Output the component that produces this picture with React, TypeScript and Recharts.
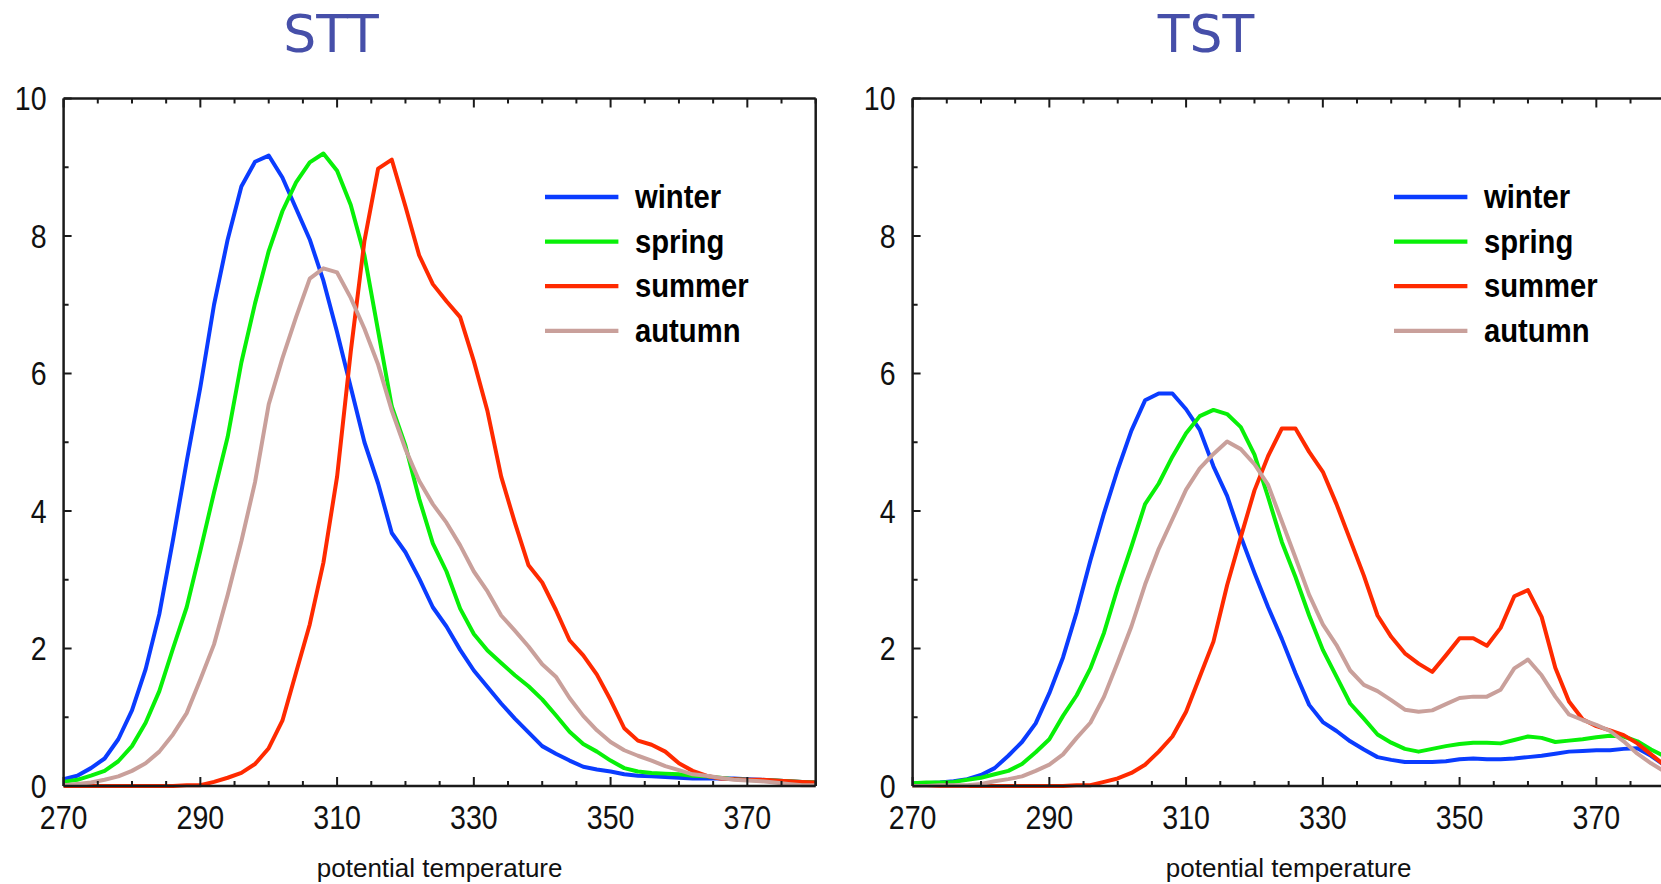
import React from 'react';
import { LineChart, Line, XAxis, YAxis, Legend } from 'recharts';

const theta = [270, 272, 274, 276, 278, 280, 282, 284, 286, 288, 290, 292, 294, 296, 298, 300, 302, 304, 306, 308, 310, 312, 314, 316, 318, 320, 322, 324, 326, 328, 330, 332, 334, 336, 338, 340, 342, 344, 346, 348, 350, 352, 354, 356, 358, 360, 362, 364, 366, 368, 370, 372, 374, 376, 378, 380];

const sttWinter = [0.10, 0.15, 0.26, 0.40, 0.68, 1.10, 1.70, 2.50, 3.58, 4.72, 5.80, 7.00, 7.95, 8.72, 9.08, 9.17, 8.85, 8.40, 7.95, 7.35, 6.60, 5.80, 5.00, 4.40, 3.68, 3.40, 3.02, 2.60, 2.32, 1.98, 1.68, 1.44, 1.20, 0.98, 0.78, 0.58, 0.47, 0.37, 0.28, 0.24, 0.21, 0.17, 0.15, 0.14, 0.13, 0.12, 0.11, 0.11, 0.11, 0.11, 0.10, 0.09, 0.08, 0.07, 0.06, 0.05];
const sttSpring = [0.06, 0.09, 0.15, 0.22, 0.36, 0.58, 0.92, 1.38, 2.00, 2.60, 3.42, 4.27, 5.08, 6.16, 7.02, 7.78, 8.36, 8.78, 9.07, 9.20, 8.95, 8.45, 7.72, 6.62, 5.52, 4.95, 4.18, 3.53, 3.12, 2.58, 2.21, 1.97, 1.79, 1.61, 1.45, 1.26, 1.03, 0.79, 0.61, 0.50, 0.37, 0.26, 0.21, 0.19, 0.18, 0.17, 0.15, 0.14, 0.12, 0.10, 0.09, 0.08, 0.08, 0.07, 0.06, 0.05];
const sttSummer = [0.00, 0.00, 0.00, 0.00, 0.00, 0.00, 0.00, 0.00, 0.00, 0.01, 0.01, 0.06, 0.12, 0.19, 0.32, 0.55, 0.95, 1.65, 2.35, 3.25, 4.50, 6.32, 7.93, 8.98, 9.11, 8.43, 7.72, 7.30, 7.05, 6.82, 6.18, 5.45, 4.50, 3.83, 3.21, 2.96, 2.56, 2.12, 1.90, 1.62, 1.25, 0.84, 0.66, 0.60, 0.50, 0.33, 0.22, 0.15, 0.11, 0.10, 0.09, 0.09, 0.08, 0.07, 0.06, 0.05];
const sttAutumn = [0.01, 0.03, 0.05, 0.09, 0.14, 0.22, 0.33, 0.50, 0.75, 1.06, 1.55, 2.06, 2.78, 3.56, 4.42, 5.55, 6.22, 6.82, 7.38, 7.53, 7.47, 7.10, 6.65, 6.13, 5.46, 4.90, 4.44, 4.10, 3.83, 3.50, 3.12, 2.83, 2.48, 2.26, 2.03, 1.77, 1.59, 1.28, 1.02, 0.81, 0.64, 0.52, 0.44, 0.37, 0.29, 0.23, 0.17, 0.15, 0.12, 0.09, 0.08, 0.07, 0.05, 0.03, 0.01, 0.01];

const tstWinter = [0.04, 0.04, 0.05, 0.07, 0.10, 0.16, 0.26, 0.44, 0.64, 0.91, 1.35, 1.87, 2.53, 3.28, 3.97, 4.60, 5.17, 5.61, 5.71, 5.71, 5.48, 5.18, 4.65, 4.22, 3.63, 3.10, 2.60, 2.14, 1.64, 1.18, 0.93, 0.80, 0.65, 0.53, 0.42, 0.38, 0.35, 0.35, 0.35, 0.36, 0.39, 0.40, 0.39, 0.39, 0.40, 0.42, 0.44, 0.47, 0.50, 0.51, 0.52, 0.52, 0.54, 0.55, 0.44, 0.30];
const tstSpring = [0.04, 0.05, 0.05, 0.06, 0.09, 0.12, 0.17, 0.22, 0.32, 0.49, 0.68, 1.02, 1.32, 1.71, 2.23, 2.89, 3.48, 4.10, 4.40, 4.79, 5.13, 5.38, 5.47, 5.41, 5.22, 4.82, 4.20, 3.55, 3.04, 2.48, 1.98, 1.59, 1.20, 0.98, 0.75, 0.63, 0.54, 0.50, 0.54, 0.58, 0.61, 0.63, 0.63, 0.62, 0.67, 0.72, 0.70, 0.64, 0.66, 0.68, 0.71, 0.73, 0.72, 0.65, 0.53, 0.43];
const tstSummer = [0.00, 0.00, 0.00, 0.00, 0.00, 0.00, 0.00, 0.00, 0.00, 0.00, 0.00, 0.00, 0.01, 0.01, 0.06, 0.11, 0.19, 0.31, 0.50, 0.72, 1.08, 1.59, 2.10, 2.92, 3.62, 4.30, 4.80, 5.20, 5.20, 4.86, 4.57, 4.10, 3.58, 3.06, 2.48, 2.17, 1.93, 1.78, 1.66, 1.90, 2.15, 2.15, 2.04, 2.30, 2.76, 2.85, 2.46, 1.72, 1.23, 0.97, 0.87, 0.81, 0.74, 0.62, 0.46, 0.30];
const tstAutumn = [0.00, 0.00, 0.01, 0.01, 0.01, 0.03, 0.07, 0.10, 0.14, 0.22, 0.31, 0.46, 0.70, 0.92, 1.30, 1.80, 2.32, 2.93, 3.45, 3.88, 4.31, 4.62, 4.83, 5.01, 4.90, 4.68, 4.38, 3.85, 3.32, 2.78, 2.35, 2.05, 1.68, 1.47, 1.38, 1.25, 1.11, 1.08, 1.10, 1.19, 1.28, 1.30, 1.30, 1.40, 1.71, 1.84, 1.61, 1.30, 1.04, 0.96, 0.89, 0.80, 0.65, 0.47, 0.33, 0.21];

const seasons = ['winter', 'spring', 'summer', 'autumn'];
const seasonColors = ['#0a3cff', '#08f008', '#ff2a00', '#c9a09b'];
const xMajorTicks = [270, 290, 310, 330, 350, 370];
const xAllTicks = [270, 275, 280, 285, 290, 295, 300, 305, 310, 315, 320, 325, 330, 335, 340, 345, 350, 355, 360, 365, 370, 375, 380];
const yMajorTicks = [0, 2, 4, 6, 8, 10];
const yAllTicks = [0, 1, 2, 3, 4, 5, 6, 7, 8, 9, 10];
const panelTitles = ['STT', 'TST'];
const xLabel = 'potential temperature';

const buildRows = (w: number[], sp: number[], su: number[], au: number[]) =>
  theta.map((t, i) => ({ theta: t, winter: w[i], spring: sp[i], summer: su[i], autumn: au[i] }));

const sttRows = buildRows(sttWinter, sttSpring, sttSummer, sttAutumn);
const tstRows = buildRows(tstWinter, tstSpring, tstSummer, tstAutumn);

const TICK_FONT = '"Liberation Sans", Arial, Helvetica, sans-serif';
const AXIS_COLOR = '#1a1a1a';
const MAJOR_LEN = 9;
const MINOR_LEN = 5;
const NARROW = 0.866;

const BottomTick = (props: any) => {
  const { x, y, payload } = props;
  const major = xMajorTicks.includes(payload.value);
  return (
    <g>
      <line x1={x} x2={x} y1={y} y2={y - (major ? MAJOR_LEN : MINOR_LEN)} stroke={AXIS_COLOR} strokeWidth={2} />
      {major && (
        <g transform={`translate(${x},${y + 31}) scale(${NARROW},1)`}>
          <text x={0} y={0} dy="0.36em" textAnchor="middle" fontFamily={TICK_FONT} fontSize={33} fill="#111">
            {payload.value}
          </text>
        </g>
      )}
    </g>
  );
};

const TopTick = (props: any) => {
  const { x, y, payload } = props;
  const major = xMajorTicks.includes(payload.value);
  return <line x1={x} x2={x} y1={y} y2={y + (major ? MAJOR_LEN : MINOR_LEN)} stroke={AXIS_COLOR} strokeWidth={2} />;
};

const LeftTick = (props: any) => {
  const { x, y, payload } = props;
  const major = yMajorTicks.includes(payload.value);
  return (
    <g>
      <line x1={x} x2={x + (major ? 8 : MINOR_LEN)} y1={y} y2={y} stroke={AXIS_COLOR} strokeWidth={2} />
      {major && (
        <g transform={`translate(${x - 17},${y}) scale(${NARROW},1)`}>
          <text x={0} y={0} dy="0.36em" textAnchor="end" fontFamily={TICK_FONT} fontSize={33} fill="#111">
            {payload.value}
          </text>
        </g>
      )}
    </g>
  );
};

const RightTick = (props: any) => {
  const { x, y, payload } = props;
  const major = yMajorTicks.includes(payload.value);
  return <line x1={x} x2={x - (major ? 8 : MINOR_LEN)} y1={y} y2={y} stroke={AXIS_COLOR} strokeWidth={2} />;
};

const LegendBox = () => (
  <svg width={260} height={190} style={{ display: 'block', overflow: 'visible' }}>
    {seasons.map((s, i) => {
      const cy = 22 + i * 44.6;
      return (
        <g key={s}>
          <line x1={0} x2={73.4} y1={cy} y2={cy} stroke={seasonColors[i]} strokeWidth={4.3} />
          <g transform={`translate(90,${cy + 11}) scale(0.86,1)`}>
            <text x={0} y={0} fontFamily={TICK_FONT} fontWeight="bold" fontSize={34} fill="#000">
              {s}
            </text>
          </g>
        </g>
      );
    })}
  </svg>
);

const W = 830;
const H = 884;
const margin = { top: 97.5, right: 13.3, bottom: 97, left: 62.6 };
const axisLineStyle = { stroke: AXIS_COLOR, strokeWidth: 2.5 };

const Panel = ({ rows }: { rows: any[] }) => (
  <LineChart width={W} height={H} data={rows} margin={margin}>
    <XAxis
      xAxisId="top"
      dataKey="theta"
      type="number"
      domain={[270, 380]}
      ticks={xAllTicks}
      interval={0}
      height={1}
      orientation="top"
      axisLine={axisLineStyle}
      tickLine={false}
      tickSize={0}
      tickMargin={0}
      tick={<TopTick />}
    />
    <XAxis
      dataKey="theta"
      type="number"
      domain={[270, 380]}
      ticks={xAllTicks}
      interval={0}
      height={1}
      orientation="bottom"
      axisLine={axisLineStyle}
      tickLine={false}
      tickSize={0}
      tickMargin={0}
      tick={<BottomTick />}
      label={{ value: xLabel, position: 'bottom', offset: 72, fill: '#111', fontSize: 26, fontFamily: TICK_FONT }}
    />
    <YAxis
      yAxisId="right"
      type="number"
      domain={[0, 10]}
      ticks={yAllTicks}
      interval={0}
      width={1}
      orientation="right"
      axisLine={axisLineStyle}
      tickLine={false}
      tickSize={0}
      tickMargin={0}
      tick={<RightTick />}
    />
    <YAxis
      type="number"
      domain={[0, 10]}
      ticks={yAllTicks}
      interval={0}
      width={1}
      orientation="left"
      axisLine={axisLineStyle}
      tickLine={false}
      tickSize={0}
      tickMargin={0}
      tick={<LeftTick />}
    />
    {seasons.map((s, i) => (
      <Line
        key={s}
        type="linear"
        dataKey={s}
        name={s}
        stroke={seasonColors[i]}
        strokeWidth={4}
        dot={false}
        activeDot={false}
        isAnimationActive={false}
        strokeLinejoin="round"
      />
    ))}
    <Legend
      layout="vertical"
      align="center"
      verticalAlign="middle"
      content={<LegendBox />}
      wrapperStyle={{ left: 545.3, top: 174.7, width: 260, height: 190 }}
    />
  </LineChart>
);

export default function App() {
  return (
    <div
      style={{
        position: 'absolute',
        left: 0,
        top: 0,
        width: 1661,
        height: 884,
        overflow: 'hidden',
        background: '#fff',
      }}
    >
      <div style={{ position: 'absolute', left: 0, top: 0 }}>
        <Panel rows={sttRows} />
      </div>
      <div style={{ position: 'absolute', left: 848.7, top: 0 }}>
        <Panel rows={tstRows} />
      </div>
      <svg width={1661} height={884} style={{ position: 'absolute', left: 0, top: 0, pointerEvents: 'none' }}>
        <text x={331} y={52} textAnchor="middle" fontFamily='"DejaVu Sans", Verdana, sans-serif' fontSize={52} fill="#464fa9">
          {panelTitles[0]}
        </text>
        <text x={1206} y={52} textAnchor="middle" fontFamily='"DejaVu Sans", Verdana, sans-serif' fontSize={52} fill="#464fa9">
          {panelTitles[1]}
        </text>
      </svg>
    </div>
  );
}
